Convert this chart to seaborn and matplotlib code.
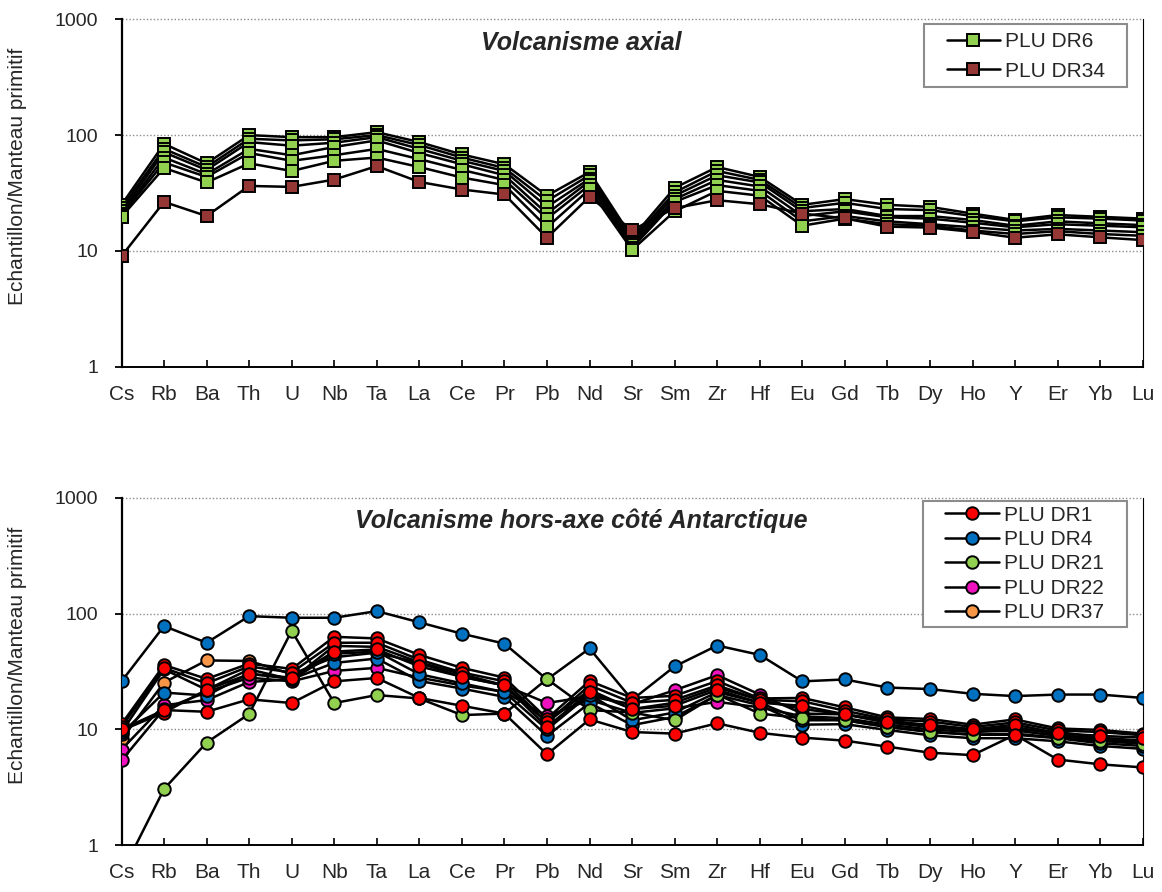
import numpy as np
import pandas as pd
import matplotlib
matplotlib.use("Agg")
import matplotlib.pyplot as plt
import seaborn as sns
from matplotlib.lines import Line2D
from matplotlib.patches import Rectangle
from matplotlib.ticker import FixedLocator, FixedFormatter, NullLocator

# ---------------- data ----------------
elements = ["Cs", "Rb", "Ba", "Th", "U", "Nb", "Ta", "La", "Ce", "Pr", "Pb", "Nd", "Sr",
            "Sm", "Zr", "Hf", "Eu", "Gd", "Tb", "Dy", "Ho", "Y", "Er", "Yb", "Lu"]
y_ticks = [1, 10, 100, 1000]
y_tick_labels = ["1", "10", "100", "1000"]

title_top = "Volcanisme axial"
title_bottom = "Volcanisme hors-axe côté Antarctique"
y_label = "Echantillon/Manteau primitif"

# top panel : PLU DR6 (several samples) and PLU DR34
dr6_1 = [25, 84, 57, 100, 96, 96, 106, 87, 68, 56, 30, 48, 13, 35, 53, 43.5, 25, 28, 25, 24, 21, 18.5, 20.4, 19.7, 19]
dr6_2 = [23.5, 76, 53, 93, 90, 92, 100, 82, 64, 52, 27, 45, 12.4, 32, 49, 41, 23.5, 26, 23, 22.5, 20, 18, 19.5, 19, 18.3]
dr6_3 = [22, 71, 50, 87, 81, 86, 96, 76, 60, 49, 24, 42, 11.8, 30, 45, 39, 22, 23, 20, 20, 18.5, 16.5, 18, 17.3, 16.7]
dr6_4 = [21, 64, 46, 76, 67, 79, 90, 70, 56, 45, 21, 40, 11.2, 28, 41, 36, 20, 22, 19.5, 19, 17.5, 16, 17, 16.5, 16]
dr6_5 = [20.5, 58, 43.5, 70, 60, 67, 76, 62, 50, 41, 19, 37, 10.6, 26.5, 37, 33, 18, 20, 18, 17, 16, 15, 15.5, 15, 14.5]
dr6_6 = [19.7, 52, 39, 57, 49, 60, 64, 53, 43, 37, 16, 34, 10.2, 22, 33, 30, 16.5, 19, 17, 16.5, 15, 14, 14.8, 14, 13.5]
dr34 = [9, 26.5, 20, 36.4, 35.7, 41.3, 54, 39.4, 33.9, 30.7, 13, 29.3, 15.1, 23.4, 27.4, 25.3, 21, 19.1, 16.2, 15.9, 14.6, 13, 13.9, 13.1, 12.4]

# bottom panel
dr1_1 = [11.1, 36, 27.3, 37, 33.3, 63, 61, 44, 34, 28, 12.4, 26.2, 18.7, 19.5, 26.2, 18.5, 18.7, 15.5, 12.7, 12.3, 11, 12.2, 10.2, 9.9, 9.2]
dr1_2 = [10.5, 34, 25, 35, 31, 56, 56, 40, 31, 26, 11.5, 24, 17, 18, 24, 18, 17.5, 14.5, 12.2, 11.7, 10.5, 11.5, 9.8, 9.5, 8.9]
dr1_3 = [9.8, 14, 22, 30, 28, 47, 49, 35, 28.5, 24, 10.5, 21, 15, 16, 22, 17, 16, 13.5, 11.5, 11, 10, 11, 9.3, 8.8, 8.5]
dr1_4 = [10, 14.7, 14.2, 18.2, 16.9, 26, 27.8, 18.7, 16, 13.7, 6.1, 12.2, 9.5, 9.2, 11.3, 9.35, 8.5, 8.0, 7.1, 6.3, 6.0, 9, 5.5, 5.0, 4.7]
dr4_1 = [26, 78, 56, 95, 92, 92, 105, 84, 67, 55, 27, 50, 18, 35, 53, 44, 26, 27, 23, 22.3, 20.3, 19.4, 20, 20, 18.7]
dr4_2 = [9.2, 20.8, 19.6, 30.4, 27.2, 37.5, 40.9, 26.2, 22.5, 19.1, 8.8, 16.9, 10.9, 12.8, 19.8, 16.2, 11.0, 11.1, 9.9, 8.9, 8.4, 8.4, 7.9, 7.2, 6.8]
dr4_3 = [9.5, 33, 22, 33, 27, 45, 47, 30, 25, 21, 10, 20, 12, 14, 21, 17, 12, 12, 10.5, 9.6, 9, 9, 8.4, 7.6, 7.2]
dr21 = [0.57, 3.06, 7.7, 13.6, 71, 16.9, 19.8, 18.5, 13.3, 13.7, 27.2, 14.7, 14, 12, 20, 13.7, 12.5, 12, 10.5, 9.5, 9, 9.2, 8.5, 8, 7.5]
dr22_1 = [6.7, 16.2, 17.9, 25.7, 27, 52.6, 51.6, 38, 30, 24, 16.9, 19.3, 16.5, 21.8, 29.4, 20, 13.7, 13.5, 12, 10.8, 10, 10, 9.5, 8.5, 8]
dr22_2 = [5.4, 15, 21, 28, 26, 32, 34, 28, 24, 21.1, 13, 18, 13.9, 15.2, 17.3, 15.5, 13, 12.5, 11, 10, 9.5, 9.8, 8.8, 8, 7.6]
dr37 = [8.2, 25.4, 39.4, 39, 30, 42, 46, 37.5, 28.4, 24, 11.5, 22, 15, 17, 23, 18, 15, 13.5, 11.5, 10.5, 9.8, 10.5, 9, 8.3, 7.8]

top_series = [("PLU DR6", "#92D050", [dr6_1, dr6_2, dr6_3, dr6_4, dr6_5, dr6_6]),
              ("PLU DR34", "#953735", [dr34])]
bottom_series_legend = [("PLU DR1", "#FF0000"), ("PLU DR4", "#0070C0"), ("PLU DR21", "#92D050"),
                        ("PLU DR22", "#F012BE"), ("PLU DR37", "#F79646")]
bottom_draw = [("#F79646", [dr37]), ("#F012BE", [dr22_1, dr22_2]), ("#0070C0", [dr4_1, dr4_2, dr4_3]),
               ("#92D050", [dr21]), ("#FF0000", [dr1_1, dr1_2, dr1_3, dr1_4])]

# ---------------- style ----------------
sns.set_style("white")
plt.rcParams["font.family"] = ["Liberation Sans", "DejaVu Sans"]

W_PX, H_PX = 1162, 892
fig = plt.figure(figsize=(W_PX / 100, H_PX / 100), dpi=100)

left_px, right_px = 121.5, 1142.7
top_axes = fig.add_axes([left_px / W_PX, 1 - 366.7 / H_PX, (right_px - left_px) / W_PX, 347.4 / H_PX])
bot_axes = fig.add_axes([left_px / W_PX, 1 - 845.3 / H_PX, (right_px - left_px) / W_PX, 347.6 / H_PX])

pos = np.arange(len(elements))
LW = 1.8
MS = 9
MEW = 1.4


def draw_line(ax, vals, face, marker):
    sns.lineplot(x=pos, y=vals, ax=ax, color="black", linewidth=LW, marker=marker,
                 markersize=MS, markerfacecolor=face, markeredgecolor="black",
                 markeredgewidth=MEW, estimator=None, sort=False, legend=False, zorder=3)


for label, col, lines in top_series:
    for v in lines:
        draw_line(top_axes, v, col, "s")

for col, lines in bottom_draw:
    for v in lines:
        draw_line(bot_axes, v, col, "o")


def style_axes(ax):
    ax.set_yscale("log")
    ax.set_ylim(1, 1000)
    ax.set_xlim(0, len(elements) - 1)
    ax.yaxis.set_major_locator(FixedLocator(y_ticks))
    ax.yaxis.set_major_formatter(FixedFormatter(y_tick_labels))
    ax.yaxis.set_minor_locator(NullLocator())
    ax.set_xticks(pos)
    ax.set_xticklabels(elements)
    ax.set_xlabel("")
    ax.set_ylabel("")
    ax.grid(False)
    for yv in y_ticks[1:]:
        ax.axhline(yv, color="#8c8c8c", linewidth=1.0, linestyle=(0, (1, 1.5)), zorder=1, clip_on=False)
    ax.spines["top"].set_visible(False)
    ax.spines["left"].set_linewidth(1.6)
    ax.spines["left"].set_color("black")
    ax.spines["bottom"].set_linewidth(1.4)
    ax.spines["bottom"].set_color("black")
    ax.spines["right"].set_linewidth(0.8)
    ax.spines["right"].set_color("black")
    ax.tick_params(axis="y", direction="out", length=5, width=1.3, color="black",
                   labelsize=14, pad=12, left=True)
    ax.tick_params(axis="x", direction="in", length=5, width=1.2, color="black",
                   labelsize=15, pad=13, bottom=True)
    ax.set_facecolor("white")


style_axes(top_axes)
style_axes(bot_axes)

# titles
top_axes.text(0.4498, 0.9116, title_top, transform=top_axes.transAxes, ha="center", va="baseline",
              fontsize=18, fontweight="bold", fontstyle="italic")
bot_axes.text(0.4498, 0.912, title_bottom, transform=bot_axes.transAxes, ha="center", va="baseline",
              fontsize=18, fontweight="bold", fontstyle="italic")

# y labels
fig.text(18 / W_PX, 1 - 176 / H_PX, y_label, rotation=90, ha="center", va="center", fontsize=15)
fig.text(18 / W_PX, 1 - 655 / H_PX, y_label, rotation=90, ha="center", va="center", fontsize=15)


# legends with hand-placed frames
def make_handle(col, marker):
    return Line2D([], [], color="black", linewidth=LW, marker=marker, markersize=MS,
                  markerfacecolor=col, markeredgecolor="black", markeredgewidth=MEW)


def add_frame(x0, y0, x1, y1):
    r = Rectangle((x0 / W_PX, 1 - y1 / H_PX), (x1 - x0) / W_PX, (y1 - y0) / H_PX,
                  transform=fig.transFigure, facecolor="white", edgecolor="#8c8c8c",
                  linewidth=1.5, zorder=4.5)
    fig.add_artist(r)


add_frame(924.2, 24, 1127.4, 86.7)
top_handles = [make_handle(c, "s") for _, c, _ in top_series]
top_labels = [l for l, _, _ in top_series]
fig.legend(top_handles, top_labels, loc="upper left", bbox_to_anchor=(946.6 / W_PX, 1 - 32.3 / H_PX),
           bbox_transform=fig.transFigure, frameon=False, borderpad=0, borderaxespad=0,
           handlelength=2.54, handletextpad=0.24, labelspacing=0.5, numpoints=1, fontsize=15)

add_frame(922.5, 500.7, 1127.4, 626.7)
bot_handles = [make_handle(c, "o") for _, c in bottom_series_legend]
bot_labels = [l for l, _ in bottom_series_legend]
fig.legend(bot_handles, bot_labels, loc="upper left", bbox_to_anchor=(945 / W_PX, 1 - 505.6 / H_PX),
           bbox_transform=fig.transFigure, frameon=False, borderpad=0, borderaxespad=0,
           handlelength=2.57, handletextpad=0.25, labelspacing=0.26, numpoints=1, fontsize=15)

fig.savefig("out.png", dpi=100, facecolor="white")
